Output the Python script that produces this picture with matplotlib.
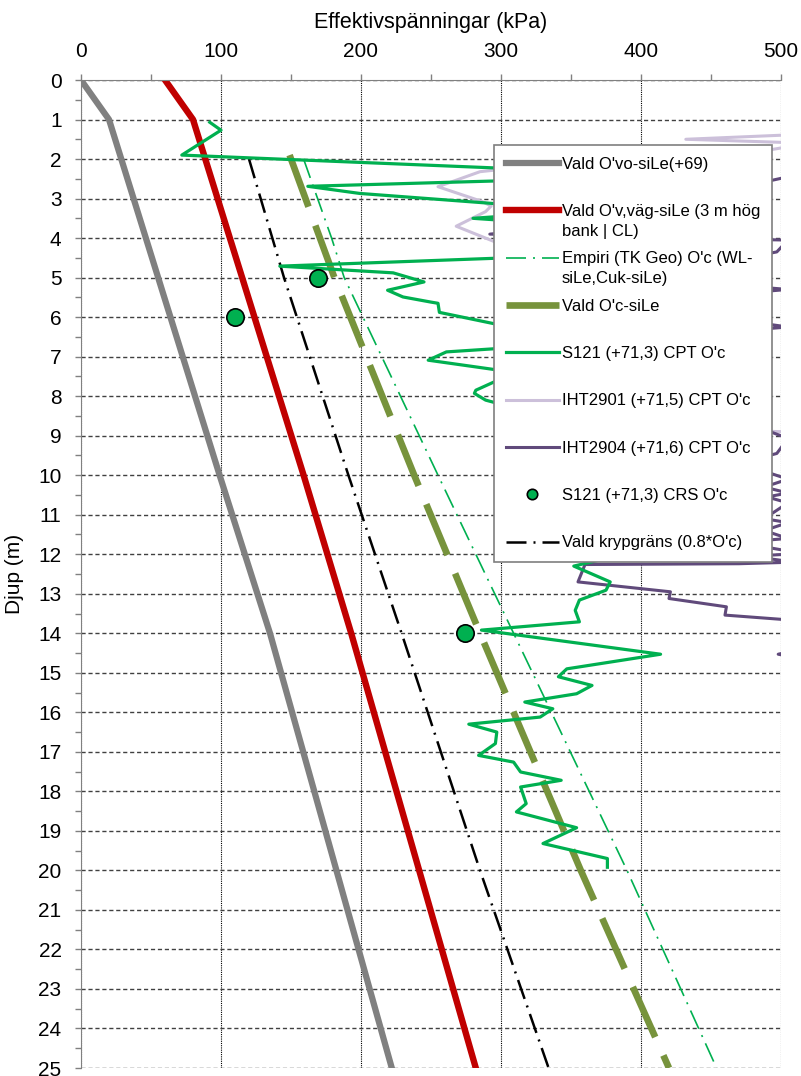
import numpy as np
import matplotlib.pyplot as plt
from matplotlib.ticker import MultipleLocator

plt.rcParams['font.family'] = ['Liberation Sans', 'DejaVu Sans']

# Vald O'vo-siLe (+69)
ovo_djup = [0, 1, 10, 14, 25]
ovo = [0, 20, 99, 135, 222]

# Vald O'v,väg-siLe (3 m hög bank)
ov_vag_djup = [0, 1, 10, 14, 25]
ov_vag = [60, 80, 159, 193, 282]

# Empiri (TK Geo)
empiri_djup = [2, 4, 5, 10, 12, 14, 20, 25]
empiri = [159, 179, 188, 255, 282, 309, 390, 454]

# Vald O'c-siLe
oc_djup = [1.9, 5, 10, 14, 20, 25]
oc = [149, 181, 238, 285, 357, 420]

# Vald krypgräns (0.8*O'c)
kryp_djup = [2, 5, 10, 12, 14, 20, 25]
kryp = [120, 145, 191, 210, 229, 285, 334]

# S121 (+71,3) CPT
s121_djup = [1.07, 1.27, 1.9, 2.42, 2.69, 2.87, 3.3, 3.5, 3.62, 3.9, 4.35, 4.71,
             4.88, 5.11, 5.32, 5.49, 5.62, 5.65, 5.88, 6.35, 6.72, 6.88, 7.09,
             7.4, 7.85, 7.93, 8.1, 8.3, 8.8, 9.3, 9.8, 10.4, 11.0, 11.5, 11.9,
             12.3, 12.7, 12.91, 13.16, 13.42, 13.71, 13.92, 14.53, 14.9, 15.1,
             15.32, 15.53, 15.74, 15.91, 16.12, 16.3, 16.5, 16.79, 17.09, 17.26,
             17.51, 17.72, 17.89, 18.31, 18.52, 18.92, 19.32, 19.7, 19.92]
s121 = [92, 100, 72, 430, 162, 199, 360, 280, 330, 320, 420, 142,
        223, 245, 219, 230, 250, 255, 256, 320, 330, 261, 248,
        310, 282, 281, 289, 310, 340, 320, 380, 350, 410, 370, 400,
        352, 378, 375, 356, 353, 356, 286, 414, 347, 341,
        365, 354, 317, 337, 328, 277, 297, 296, 284, 309,
        314, 343, 314, 318, 311, 354, 330, 376, 376]

# IHT2901 (+71,5) CPT
iht2901_djup = [1.3, 1.39, 1.5, 1.6, 1.9, 2.15, 2.32, 2.7, 3.08, 3.19, 3.33, 3.7,
                4.3, 4.8, 5.4, 6.0, 6.8, 7.5, 8.2, 8.7, 8.88, 8.93, 9.4, 10.5,
                12.0, 13.0]
iht2901 = [600, 505, 432, 520, 470, 330, 285, 255, 287, 293, 289, 268,
           310, 360, 330, 400, 380, 440, 420, 470, 478, 540, 620, 700,
           650, 700]

# IHT2904 (+71,6) CPT
iht2904_djup = [2.2, 2.45, 2.72, 2.95, 3.1, 3.6, 3.9, 4.0, 4.05, 4.35, 4.6, 5.2,
                5.3, 5.4, 6.1, 6.25, 6.35, 7.5, 8.6, 9.07, 9.45, 9.7, 9.9, 10.1,
                10.3, 10.45, 10.55, 10.7, 11.1, 11.2, 11.4, 11.6, 11.7, 11.98,
                12.05, 12.2, 12.24, 12.26, 12.7, 12.95, 13.12, 13.33, 13.54, 13.7,
                14.2, 14.53, 14.8, 15.5]
iht2904 = [560, 505, 470, 489, 460, 380, 292, 420, 505, 497, 460, 470,
           505, 470, 475, 505, 470, 440, 470, 505, 497, 470, 488, 505,
           488, 505, 490, 505, 488, 505, 488, 505, 470, 515,
           478, 510, 470, 360, 355, 421, 420, 461, 460, 520,
           540, 498, 540, 600]

# S121 (+71,3) CRS
crs_djup = [5, 6, 14]
crs = [169, 110, 274]

fig = plt.figure(figsize=(8.01, 10.76), dpi=100)
ax = fig.add_axes([81 / 801, 8 / 1076, 700 / 801, 988 / 1076])

l_2901, = ax.plot(iht2901, iht2901_djup, color='#CCC0DA', lw=2.2, zorder=2)
l_2904, = ax.plot(iht2904, iht2904_djup, color='#604A7B', lw=2.2, zorder=2.1)
l_ovo, = ax.plot(ovo, ovo_djup, color='#808080', lw=4.5, zorder=2.2)
l_vag, = ax.plot(ov_vag, ov_vag_djup, color='#C00000', lw=4.6, zorder=2.3)
l_oc, = ax.plot(oc, oc_djup, color='#77933C', lw=4.8, dashes=(8.25, 3), zorder=2.4)
l_emp, = ax.plot(empiri, empiri_djup, color='#00B050', lw=1.2, dashes=(12, 4.2, 1.2, 4.2), zorder=2.5)
l_kryp, = ax.plot(kryp, kryp_djup, color='black', lw=1.8, dashes=(8, 2.8, 0.8, 2.8), zorder=2.6)
l_s121, = ax.plot(s121, s121_djup, color='#00B050', lw=2.3, zorder=3)
l_crs, = ax.plot(crs, crs_djup, 'o', color='#00B050', markersize=12.5,
                 markeredgecolor='black', markeredgewidth=1.2, zorder=4)

ax.set_xlim(0, 500)
ax.set_ylim(25, 0)
ax.xaxis.set_major_locator(MultipleLocator(100))
ax.xaxis.set_minor_locator(MultipleLocator(50))
ax.yaxis.set_major_locator(MultipleLocator(1))
ax.yaxis.set_minor_locator(MultipleLocator(0.5))
ax.tick_params(axis='both', which='both', direction='out', length=4, width=1, color='#808080')
ax.tick_params(axis='x', which='both', top=True, bottom=False, labeltop=True, labelbottom=False)
ax.tick_params(axis='both', which='major', pad=10, labelsize=15)
ax.xaxis.set_label_position('top')
ax.set_xlabel('Effektivspänningar (kPa)', fontsize=15.5, labelpad=10)
ax.set_ylabel('Djup (m)', fontsize=15, labelpad=10)

ax.set_axisbelow(True)
ax.grid(True, axis='y', which='major', color='#404040', lw=1, linestyle=(0, (3, 2)))
ax.grid(True, axis='x', which='major', color='black', lw=0.8, linestyle=(0, (1, 1)))
for side in ['right', 'bottom']:
    ax.spines[side].set_visible(False)
for side in ['top', 'left']:
    ax.spines[side].set_color('#808080')

handles = [l_ovo, l_vag, l_emp, l_oc, l_s121, l_2901, l_2904, l_crs, l_kryp]
labels = ["Vald O'vo-siLe(+69)",
          "Vald O'v,väg-siLe (3 m hög",
          "Empiri (TK Geo) O'c (WL-",
          "Vald O'c-siLe",
          "S121 (+71,3) CPT O'c",
          "IHT2901 (+71,5) CPT O'c",
          "IHT2904 (+71,6) CPT O'c",
          "S121 (+71,3) CRS O'c",
          "Vald krypgräns (0.8*O'c)"]
second_lines = ["", "bank | CL)", "siLe,Cuk-siLe)", "", "", "", "", "", ""]

leg = ax.legend(handles, labels, loc='upper left', bbox_to_anchor=(0.59, 0.9342),
                borderaxespad=0, fontsize=12, labelspacing=1.94, borderpad=0.7,
                handlelength=3.2, handletextpad=0.15, markerscale=0.6,
                fancybox=False, framealpha=1, edgecolor='#7F7F7F')
leg.get_frame().set_linewidth(1.2)

for txt, extra in zip(leg.get_texts(), second_lines):
    if extra:
        ax.annotate(extra, xy=(0, 0), xycoords=txt, xytext=(0, -5),
                    textcoords='offset pixels', va='top', ha='left',
                    fontsize=12, zorder=6, annotation_clip=False)

plt.savefig('out.png', dpi=100)
